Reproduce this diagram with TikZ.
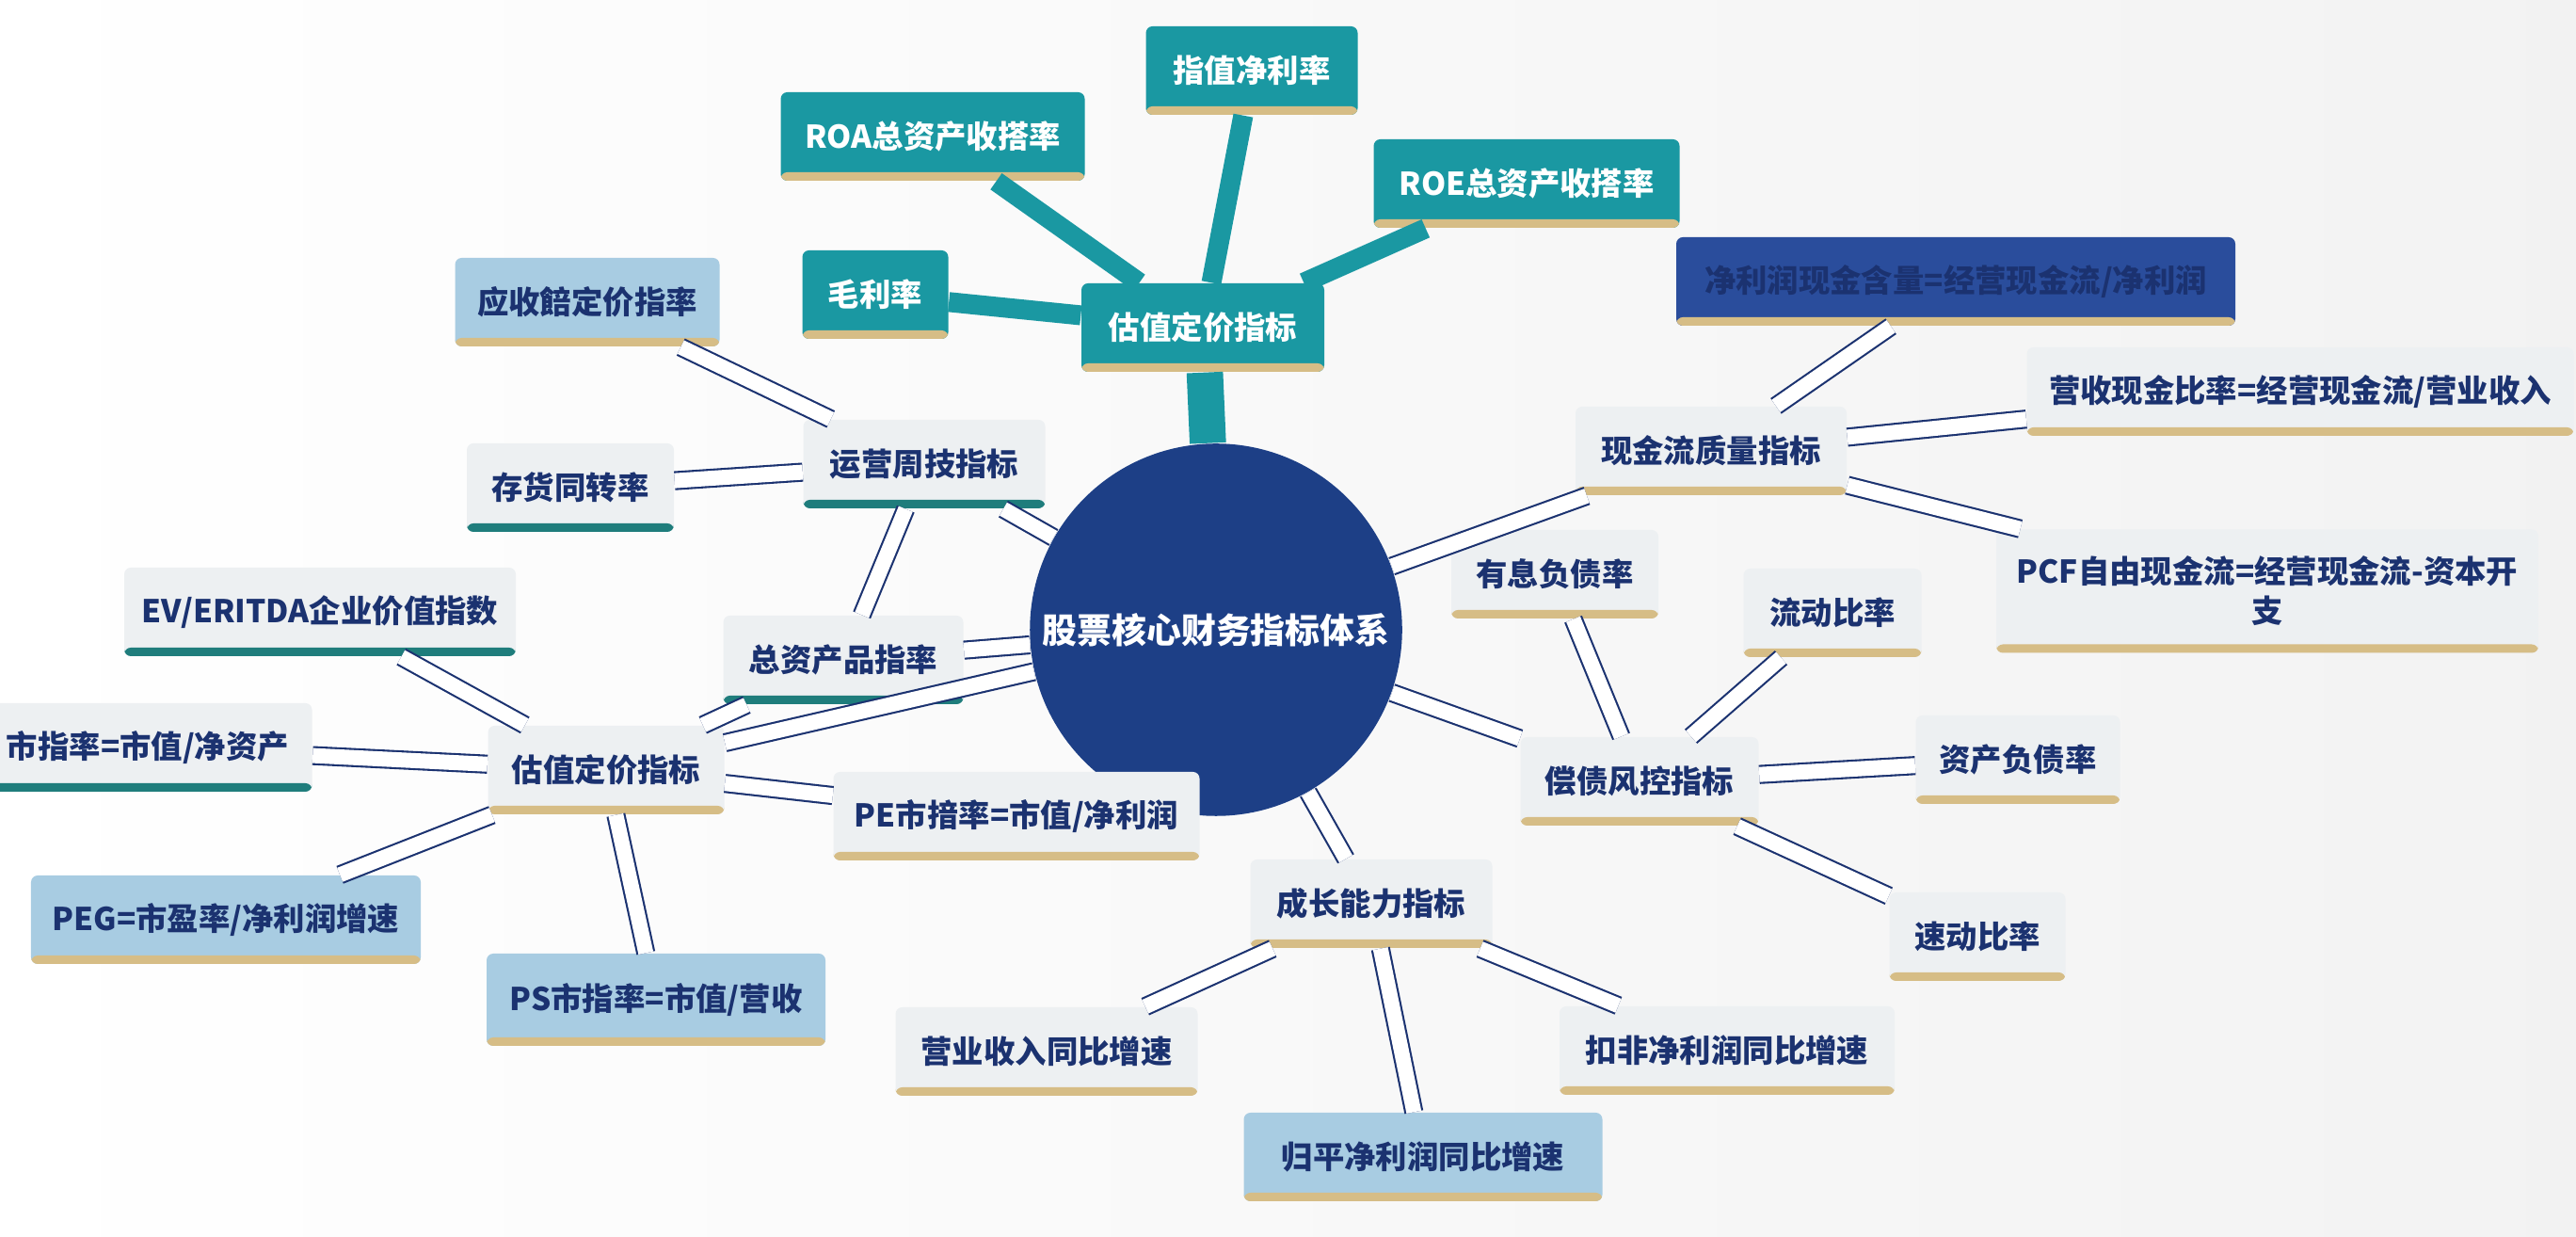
\documentclass[tikz,border=0pt]{standalone}
\usepackage{fontspec}
\setmainfont{Noto Sans CJK SC}
\usetikzlibrary{positioning,calc}
\definecolor{navy}{HTML}{1B3270}
\definecolor{hub}{HTML}{1D3F86}
\definecolor{tealc}{HTML}{1A98A2}
\definecolor{tealbar}{HTML}{1F7D7C}
\definecolor{gold}{HTML}{D6BD86}
\definecolor{boxgray}{HTML}{EDF0F2}
\definecolor{lblue}{HTML}{A8CCE2}
\definecolor{dblue}{HTML}{2A4D9C}
\tikzset{
  card/.style={rounded corners=2pt, fill=boxgray, text=navy, align=center,
    font=\fontsize{9.5}{12}\selectfont\bfseries, inner sep=0pt,
    minimum height=0.94cm, path picture={\fill[#1]
      (path picture bounding box.south west) rectangle
      ([yshift=0.09cm]path picture bounding box.south east);}},
  card/.default=gold,
  tealcard/.style={card, fill=tealc, text=white},
  link/.style={draw=navy, line width=0.6pt, double=white, double distance=0.16cm},
  stem/.style={draw=tealc, line width=6pt}
}
\begin{document}
\begin{tikzpicture}
  % background
  \shade[left color=white, right color=gray!10] (0,0) rectangle (27.37,13.14);
  \useasboundingbox (0,0) rectangle (27.37,13.14);

  % hub
  \node[circle, fill=hub, text=white, minimum size=3.91cm,
    font=\fontsize{10.5}{12}\selectfont\bfseries] (hub) at (12.92,6.45) {股票核心财务指标体系};

  % top group
  \node[tealcard, minimum width=2.58cm] (topval) at (12.78,9.66) {估值定价指标};
  \node[tealcard, minimum width=1.55cm] (gross) at (9.30,10.01) {毛利率};
  \node[tealcard, minimum width=3.23cm] (roa) at (9.91,11.69) {ROA总资产收搭率};
  \node[tealcard, minimum width=2.25cm] (netm) at (13.30,12.39) {指值净利率};
  \node[tealcard, minimum width=3.25cm] (roe) at (16.22,11.19) {ROE总资产收搭率};

  % left-upper group
  \node[card, fill=lblue, minimum width=2.81cm] (recv) at (6.24,9.93) {应收餢定价指率};
  \node[card=tealbar, minimum width=2.57cm] (oper) at (9.82,8.21) {运营周技指标};
  \node[card=tealbar, minimum width=2.20cm] (stock) at (6.06,7.96) {存货同转率};
  \node[card=tealbar, minimum width=2.55cm] (asset) at (8.96,6.13) {总资产品指率};

  % left-lower group
  \node[card=tealbar, minimum width=4.16cm] (ev) at (3.40,6.64) {EV/ERITDA企业价值指数};
  \node[card=tealbar, minimum width=3.49cm] (pb) at (1.57,5.20) {市指率=市值/净资产};
  \node[card, minimum width=2.51cm] (val) at (6.44,4.96) {估值定价指标};
  \node[card, minimum width=3.89cm] (pe) at (10.80,4.47) {PE市揞率=市值/净利润};
  \node[card, fill=lblue, minimum width=4.14cm] (peg) at (2.40,3.37) {PEG=市盈率/净利润增速};
  \node[card, fill=lblue, minimum width=3.60cm, minimum height=0.98cm] (ps) at (6.97,2.52) {PS市指率=市值/营收};

  % growth group
  \node[card, minimum width=2.57cm] (grow) at (14.57,3.54) {成长能力指标};
  \node[card, minimum width=3.21cm] (rev) at (11.12,1.97) {营业收入同比增速};
  \node[card, fill=lblue, minimum width=3.81cm] (parent) at (15.12,0.85) {归平净利润同比增速};
  \node[card, minimum width=3.56cm] (deduct) at (18.35,1.98) {扣非净利润同比增速};

  % debt group
  \node[card, minimum width=2.53cm] (debt) at (17.42,4.84) {偿债风控指标};
  \node[card, minimum width=2.20cm] (intd) at (16.52,7.04) {有息负债率};
  \node[card, minimum width=1.89cm] (curr) at (19.47,6.63) {流动比率};
  \node[card, minimum width=2.17cm] (lev) at (21.44,5.07) {资产负债率};
  \node[card, minimum width=1.87cm] (quick) at (21.01,3.19) {速动比率};

  % cash flow group
  \node[card, minimum width=2.88cm] (cash) at (18.18,8.35) {现金流质量指标};
  \node[card, fill=dblue, minimum width=5.94cm] (ncash) at (20.78,10.15) {净利润现金含量=经营现金流/净利润};
  \node[card, minimum width=5.81cm] (rcash) at (24.44,8.98) {营收现金比率=经营现金流/营业收入};
  \node[card, minimum width=5.76cm, minimum height=1.31cm] (fcf) at (24.09,6.86) {PCF自由现金流=经营现金流-资本开\\支};

  % connectors
  \begin{scope}[on background layer/.style={}]
  \end{scope}
  \begin{pgfinterruptboundingbox}\end{pgfinterruptboundingbox}
  \path[stem, line width=11pt] (topval) -- (hub);
  \foreach \t in {gross, roa, netm, roe} \path[stem] (topval) -- (\t);
  \foreach \a/\b in {hub/oper, oper/recv, oper/stock, oper/asset, hub/asset, hub/val,
      val/ev, val/pb, val/peg, val/ps, val/pe, val/asset,
      hub/grow, grow/rev, grow/parent, grow/deduct,
      hub/debt, debt/intd, debt/curr, debt/lev, debt/quick,
      hub/cash, cash/ncash, cash/rcash, cash/fcf}
    \path[link] (\a) -- (\b);
\end{tikzpicture}
\end{document}
